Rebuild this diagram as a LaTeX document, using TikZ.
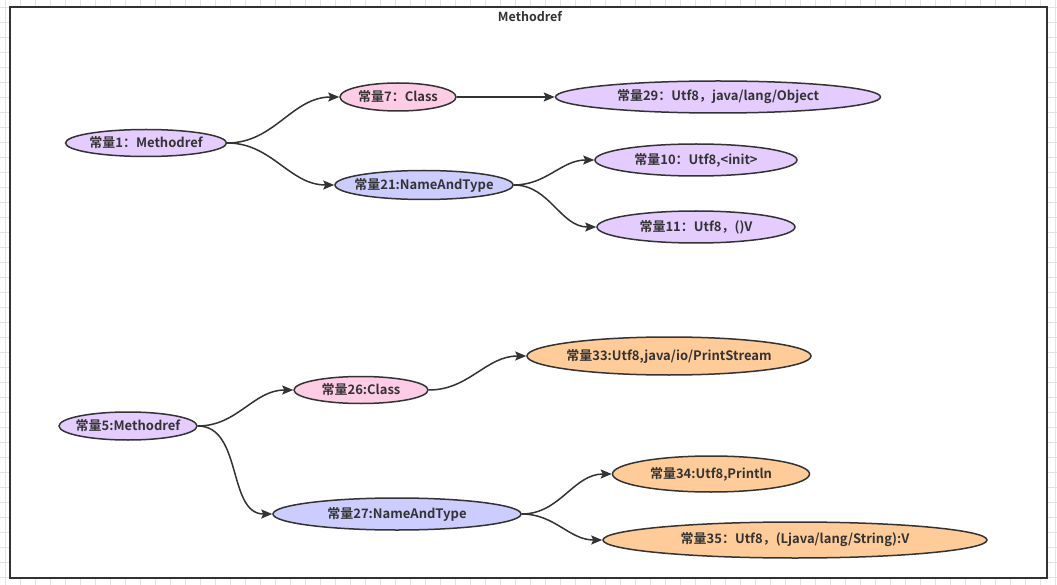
\documentclass[tikz,border=0pt]{standalone}
\usepackage{fontspec}
\setmainfont{Noto Sans CJK SC}[BoldFont={Noto Sans CJK SC Bold}]
\usetikzlibrary{shapes.geometric,arrows.meta}
\definecolor{ink}{HTML}{333333}
\definecolor{gridline}{HTML}{E3E3E3}
\definecolor{lilac}{HTML}{E5CCFF}
\definecolor{rose}{HTML}{FFCCE6}
\definecolor{periwinkle}{HTML}{CCCCFF}
\definecolor{peach}{HTML}{FFCC99}
% label of zero width, so that an ellipse keeps its given size
\newcommand\zwlabel[1]{\makebox[0pt][c]{#1}}
\begin{document}
\begin{tikzpicture}[x=1pt,y=-1pt,
  cnode/.style={ellipse,draw=ink,line width=1.5pt,inner sep=0pt,
    font=\bfseries\fontsize{13}{15}\selectfont,text=ink},
  purple/.style={cnode,fill=lilac},
  pink/.style={cnode,fill=rose},
  blue/.style={cnode,fill=periwinkle},
  orange/.style={cnode,fill=peach},
  link/.style={draw=ink,line width=1.5pt,-{Stealth[length=11pt,width=9pt,inset=2pt]}}]
\useasboundingbox (0,0) rectangle (1057,585);
% background grid of the canvas
\foreach \gx in {5,20,...,1055} \draw[gridline,line width=0.6pt] (\gx,0) -- (\gx,585);
\foreach \gy in {7,22,...,585} \draw[gridline,line width=0.6pt] (0,\gy) -- (1057,\gy);
% container frame
\draw[ink,line width=1.5pt,fill=white] (10,7) rectangle (1047,578);
\node[font=\bfseries\fontsize{12.5}{14}\selectfont,text=ink] (title) at (530,17) {Methodref};

% first Methodref tree
\node[purple,minimum width=161pt,minimum height=27pt] (m1) at (146,143) {\zwlabel{常量1：Methodref}};
\node[pink,minimum width=116pt,minimum height=28pt] (c7) at (398,97) {\zwlabel{常量7：Class}};
\node[purple,minimum width=325pt,minimum height=32pt] (u29) at (718,97) {\zwlabel{常量29：Utf8，java/lang/Object}};
\node[blue,minimum width=178pt,minimum height=29pt] (n21) at (424,185) {\zwlabel{常量21:NameAndType}};
\node[purple,minimum width=202pt,minimum height=32pt] (u10) at (696,160) {\zwlabel{常量10：Utf8,<init>}};
\node[purple,minimum width=198pt,minimum height=32pt] (u11) at (696,227) {\zwlabel{常量11：Utf8，()V}};

% second Methodref tree
\node[purple,minimum width=138pt,minimum height=28pt] (m5) at (128,426) {\zwlabel{常量5:Methodref}};
\node[pink,minimum width=134pt,minimum height=27pt] (c26) at (361,390) {\zwlabel{常量26:Class}};
\node[orange,minimum width=284pt,minimum height=38pt] (u33) at (669,356) {\zwlabel{常量33:Utf8,java/io/PrintStream}};
\node[blue,minimum width=248pt,minimum height=32pt] (n27) at (397,514) {\zwlabel{常量27:NameAndType}};
\node[orange,minimum width=197pt,minimum height=36pt] (u34) at (711,474) {\zwlabel{常量34:Utf8,Println}};
\node[orange,minimum width=384pt,minimum height=36pt] (u35) at (795,540) {\zwlabel{常量35：Utf8，(Ljava/lang/String):V}};

% references
\draw[link] (m1.east) to[out=0,in=180] (c7.west);
\draw[link] (m1.east) to[out=0,in=180] (n21.west);
\draw[link] (c7.east) -- (u29.west);
\draw[link] (n21.east) to[out=0,in=180] (u10.west);
\draw[link] (n21.east) to[out=0,in=180] (u11.west);

\draw[link] (m5.east) to[out=0,in=180] (c26.west);
\draw[link] (m5.east) to[out=0,in=180] (n27.west);
\draw[link] (c26.east) to[out=0,in=180] (u33.west);
\draw[link] (n27.east) to[out=0,in=180] (u34.west);
\draw[link] (n27.east) to[out=0,in=180] (u35.west);
\end{tikzpicture}
\end{document}
